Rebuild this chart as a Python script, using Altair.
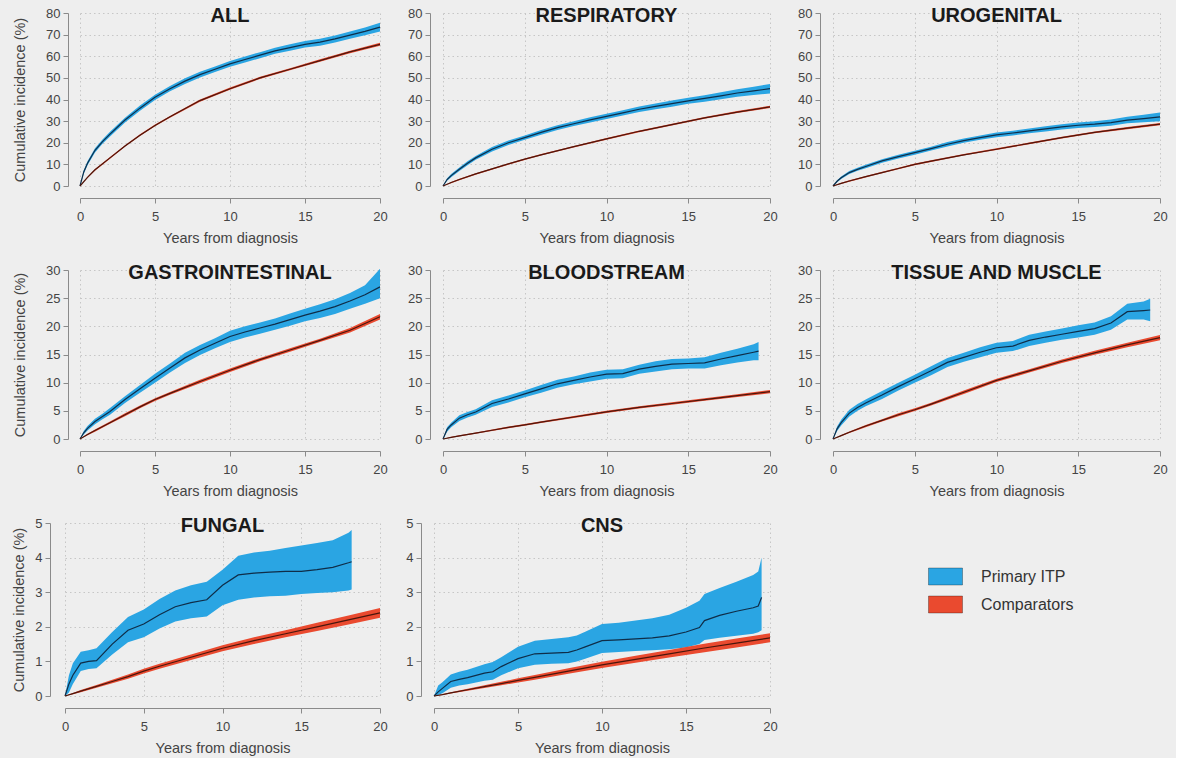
import altair as alt
import pandas as pd

# ---------------------------------------------------------------- styling
FONT = "Liberation Sans"
BG = "#eeeeee"
ITP_FILL = "#2aa5e3"
CMP_FILL = "#ea4a2f"
ITP_LINE = "#0f2d48"
CMP_LINE = "#4a160c"
GROUPS = ["Primary ITP", "Comparators"]
X_TICKS = [0, 5, 10, 15, 20]

# ---------------------------------------------------------------- time grids (years)
T_ITP = [0, 0.25, 0.5, 1, 1.5, 2, 3, 4, 5, 6, 7, 8, 9, 10, 11, 12, 13, 14, 15, 16, 17, 18, 19, 20]
T_CMP = [0, 0.5, 1, 2, 3, 4, 5, 6, 8, 10, 12, 14, 16, 18, 20]
T_BLOOD_ITP = [0, 0.25, 0.5, 1, 1.5, 2, 3, 4, 5, 6, 7, 8, 9, 10, 11, 12, 13, 14, 15, 16, 17, 18, 19, 19.3]
T_TISSUE_ITP = [0, 0.25, 0.5, 1, 1.5, 2, 3, 4, 5, 6, 7, 8, 9, 10, 11, 12, 13, 14, 15, 16, 17, 18, 19, 19.4]
T_FUNGAL_ITP = [0, 0.25, 0.5, 1, 1.5, 2, 3, 4, 5, 6, 7, 8, 9, 10, 11, 12, 13, 14, 15, 16, 17, 18, 18.2]
T_CNS_ITP = [0, 0.25, 0.5, 1, 1.5, 2, 3, 3.5, 4, 5, 6, 7, 8, 8.5, 9, 10, 11, 12, 13, 14, 15, 15.8, 16.1,
             17, 18, 19, 19.3, 19.5]

# ---------------------------------------------------------------- cumulative incidence (%)
# ALL
ALL_ITP = [0, 6.5, 10.5, 16.5, 20.5, 24, 30.5, 36, 41, 45, 48.5, 51.5, 54, 56.5, 58.5, 60.5, 62.5, 64, 65.5,
           66.5, 68, 69.8, 71.5, 73.5]
ALL_ITP_LO = [0, 5.7, 9.6, 15.5, 19.5, 22.9, 29.4, 34.8, 39.8, 43.8, 47.2, 50.2, 52.7, 55.2, 57.1, 59.1, 61.1,
              62.5, 64.0, 64.9, 66.4, 68.1, 69.7, 71.5]
ALL_ITP_HI = [0, 7.3, 11.4, 17.5, 21.5, 25.1, 31.6, 37.2, 42.2, 46.2, 49.8, 52.8, 55.3, 57.8, 59.9, 61.9, 63.9,
              65.5, 67.0, 68.1, 69.6, 71.5, 73.3, 75.5]
ALL_CMP = [0, 4, 7.5, 13, 18.5, 23.5, 28, 32, 39.5, 45, 50, 54, 58, 62, 65.5]
ALL_CMP_LO = [0, 3.7, 7.1, 12.6, 18.1, 23.1, 27.6, 31.6, 39.0, 44.5, 49.5, 53.5, 57.4, 61.4, 64.8]
ALL_CMP_HI = [0, 4.3, 7.9, 13.4, 18.9, 23.9, 28.4, 32.4, 40.0, 45.5, 50.5, 54.5, 58.6, 62.6, 66.2]

# RESPIRATORY
RESP_ITP = [0, 3, 4.8, 7.7, 10.5, 13, 17, 20, 22.4, 24.8, 27, 28.8, 30.6, 32.2, 33.8, 35.5, 36.8, 38.1, 39.4,
            40.5, 41.7, 43, 44, 45]
RESP_ITP_LO = [0, 2.4, 4.1, 6.9, 9.6, 12.1, 16, 19, 21.4, 23.7, 25.9, 27.7, 29.4, 31, 32.6, 34.2, 35.5, 36.7,
               38, 39, 40.1, 41.3, 42.1, 42.8]
RESP_ITP_HI = [0, 3.6, 5.5, 8.5, 11.4, 13.9, 18, 21, 23.4, 25.9, 28.1, 29.9, 31.8, 33.4, 35, 36.8, 38.1, 39.5,
               40.8, 42, 43.3, 44.7, 45.9, 47.2]
RESP_CMP = [0, 1.6, 3, 5.6, 7.9, 10.2, 12.4, 14.4, 18.2, 21.8, 25.3, 28.4, 31.5, 34.2, 36.6]
RESP_CMP_LO = [0, 1.3, 2.65, 5.25, 7.55, 9.85, 12.05, 14.05, 17.85, 21.4, 24.9, 28, 31.1, 33.7, 36.1]
RESP_CMP_HI = [0, 1.9, 3.35, 5.95, 8.25, 10.55, 12.75, 14.75, 18.55, 22.2, 25.7, 28.8, 31.9, 34.7, 37.1]

# UROGENITAL
URO_ITP = [0, 2.2, 3.8, 6.2, 7.7, 9, 11.6, 13.6, 15.4, 17.3, 19.3, 21, 22.4, 23.6, 24.5, 25.5, 26.4, 27.3, 28.1,
           28.6, 29.3, 30.5, 31.2, 32]
URO_ITP_LO = [0, 1.7, 3.2, 5.5, 7.0, 8.2, 10.8, 12.7, 14.5, 16.4, 18.3, 20, 21.4, 22.5, 23.4, 24.4, 25.2, 26.1,
              26.8, 27.3, 27.9, 29, 29.5, 30]
URO_ITP_HI = [0, 2.7, 4.4, 6.9, 8.4, 9.8, 12.4, 14.5, 16.3, 18.2, 20.3, 22, 23.4, 24.7, 25.6, 26.6, 27.6, 28.5,
              29.4, 29.9, 30.7, 32, 32.9, 34]
URO_CMP = [0, 1.2, 2.3, 4.3, 6.2, 8.1, 10, 11.5, 14.4, 17, 19.7, 22.4, 24.8, 26.8, 28.6]
URO_CMP_LO = [0, 0.9, 1.95, 3.95, 5.85, 7.75, 9.65, 11.15, 14.05, 16.6, 19.3, 22, 24.4, 26.3, 28.1]
URO_CMP_HI = [0, 1.5, 2.65, 4.65, 6.55, 8.45, 10.35, 11.85, 14.75, 17.4, 20.1, 22.8, 25.2, 27.3, 29.1]

# GASTROINTESTINAL
GI_ITP = [0, 1.1, 1.9, 3.1, 4.0, 4.9, 7, 8.9, 10.8, 12.6, 14.4, 15.8, 17, 18.2, 19, 19.7, 20.4, 21.2, 22, 22.7,
          23.5, 24.5, 25.6, 27]
GI_ITP_LO = [0, 0.8, 1.5, 2.6, 3.5, 4.3, 6.4, 8.2, 10, 11.8, 13.5, 14.9, 16.1, 17.2, 18, 18.7, 19.4, 20.1, 20.9,
             21.5, 22.2, 23.1, 24, 25]
GI_ITP_HI = [0, 1.4, 2.3, 3.6, 4.5, 5.5, 7.6, 9.6, 11.6, 13.4, 15.3, 16.7, 17.9, 19.2, 20, 20.7, 21.4, 22.3,
             23.1, 23.9, 24.8, 25.9, 27.3, 30.2]
GI_CMP = [0, 0.8, 1.5, 2.9, 4.3, 5.7, 7, 8.1, 10.2, 12.2, 14.1, 15.8, 17.5, 19.3, 21.7]
GI_CMP_LO = [0, 0.65, 1.3, 2.7, 4.05, 5.45, 6.75, 7.85, 9.9, 11.9, 13.8, 15.5, 17.2, 18.9, 21.2]
GI_CMP_HI = [0, 0.95, 1.7, 3.1, 4.55, 5.95, 7.25, 8.35, 10.5, 12.5, 14.4, 16.1, 17.8, 19.7, 22.2]

# BLOODSTREAM
BLOOD_ITP = [0, 1.7, 2.5, 3.7, 4.3, 4.8, 6.3, 7.1, 8, 8.9, 9.8, 10.4, 11, 11.5, 11.6, 12.4, 12.9, 13.3, 13.4,
             13.5, 14.2, 14.8, 15.4, 15.6]
BLOOD_ITP_LO = [0, 1.3, 2.1, 3.2, 3.8, 4.3, 5.7, 6.5, 7.4, 8.2, 9.1, 9.7, 10.2, 10.7, 10.8, 11.6, 12, 12.4,
                12.5, 12.5, 13.1, 13.6, 14, 14]
BLOOD_ITP_HI = [0, 2.1, 2.9, 4.2, 4.8, 5.3, 6.9, 7.7, 8.6, 9.6, 10.5, 11.1, 11.8, 12.3, 12.4, 13.2, 13.8, 14.2,
                14.3, 14.5, 15.3, 16, 16.8, 17.2]
BLOOD_CMP = [0, 0.3, 0.55, 1.05, 1.55, 2.05, 2.5, 3, 3.9, 4.8, 5.6, 6.3, 7.0, 7.7, 8.4]
BLOOD_CMP_LO = [0, 0.22, 0.45, 0.93, 1.42, 1.9, 2.35, 2.84, 3.72, 4.6, 5.4, 6.08, 6.77, 7.45, 8.12]
BLOOD_CMP_HI = [0, 0.38, 0.65, 1.17, 1.68, 2.2, 2.65, 3.16, 4.08, 5.0, 5.8, 6.52, 7.23, 7.95, 8.68]

# TISSUE AND MUSCLE
TISSUE_ITP = [0, 1.8, 2.9, 4.6, 5.6, 6.4, 7.8, 9.3, 10.7, 12.1, 13.6, 14.5, 15.4, 16.2, 16.5, 17.5, 18.1, 18.6,
              19.1, 19.6, 20.6, 22.6, 22.8, 22.9]
TISSUE_ITP_LO = [0, 1.4, 2.4, 4.0, 5.0, 5.8, 7.1, 8.6, 10.0, 11.3, 12.8, 13.7, 14.5, 15.3, 15.6, 16.5, 17.1,
                 17.6, 18, 18.5, 19.4, 21.2, 21.2, 20.9]
TISSUE_ITP_HI = [0, 2.2, 3.4, 5.2, 6.2, 7.0, 8.5, 10.0, 11.4, 12.9, 14.4, 15.3, 16.3, 17.1, 17.4, 18.5, 19.1,
                 19.6, 20.2, 20.7, 21.8, 24, 24.4, 24.9]
TISSUE_CMP = [0, 0.6, 1.2, 2.3, 3.3, 4.3, 5.2, 6.2, 8.3, 10.4, 12.1, 13.8, 15.3, 16.7, 18.0]
TISSUE_CMP_LO = [0, 0.5, 1.05, 2.1, 3.1, 4.05, 4.95, 5.95, 8.0, 10.1, 11.8, 13.5, 14.95, 16.3, 17.55]
TISSUE_CMP_HI = [0, 0.7, 1.35, 2.5, 3.5, 4.55, 5.45, 6.45, 8.6, 10.7, 12.4, 14.1, 15.65, 17.1, 18.45]

# FUNGAL
FUNGAL_ITP = [0, 0.35, 0.6, 0.95, 1.0, 1.02, 1.5, 1.9, 2.08, 2.35, 2.58, 2.7, 2.78, 3.2, 3.5, 3.55, 3.58, 3.6,
              3.6, 3.65, 3.72, 3.85, 3.88]
FUNGAL_ITP_LO = [0, 0.1, 0.35, 0.72, 0.78, 0.8, 1.2, 1.55, 1.7, 1.95, 2.15, 2.25, 2.3, 2.62, 2.78, 2.85, 2.88,
                 2.9, 2.95, 2.98, 3.0, 3.05, 3.08]
FUNGAL_ITP_HI = [0, 0.6, 0.95, 1.28, 1.32, 1.38, 1.85, 2.28, 2.5, 2.8, 3.05, 3.2, 3.3, 3.65, 4.05, 4.15, 4.2,
                 4.28, 4.35, 4.42, 4.5, 4.72, 4.8]
FUNGAL_CMP = [0, 0.07, 0.14, 0.28, 0.42, 0.56, 0.72, 0.86, 1.12, 1.38, 1.6, 1.8, 2.0, 2.2, 2.4]
FUNGAL_CMP_LO = [0, 0.05, 0.11, 0.24, 0.37, 0.5, 0.65, 0.79, 1.04, 1.29, 1.5, 1.7, 1.88, 2.07, 2.26]
FUNGAL_CMP_HI = [0, 0.09, 0.17, 0.32, 0.47, 0.62, 0.79, 0.93, 1.2, 1.47, 1.7, 1.9, 2.12, 2.33, 2.54]

# CNS
CNS_ITP = [0, 0.12, 0.22, 0.42, 0.48, 0.53, 0.66, 0.7, 0.85, 1.08, 1.22, 1.24, 1.26, 1.33, 1.42, 1.6, 1.62,
           1.65, 1.68, 1.74, 1.85, 1.98, 2.18, 2.33, 2.45, 2.55, 2.6, 2.85]
CNS_ITP_LO = [0, 0.03, 0.08, 0.24, 0.3, 0.34, 0.44, 0.47, 0.6, 0.8, 0.9, 0.93, 0.95, 1.0, 1.08, 1.24, 1.27,
              1.3, 1.32, 1.35, 1.4, 1.5, 1.62, 1.68, 1.74, 1.8, 1.84, 1.9]
CNS_ITP_HI = [0, 0.3, 0.4, 0.62, 0.7, 0.76, 0.92, 0.98, 1.12, 1.42, 1.6, 1.65, 1.7, 1.75, 1.86, 2.08, 2.12,
              2.18, 2.25, 2.35, 2.55, 2.75, 2.95, 3.12, 3.3, 3.5, 3.6, 4.0]
CNS_CMP = [0, 0.04, 0.09, 0.18, 0.27, 0.36, 0.45, 0.54, 0.72, 0.9, 1.06, 1.22, 1.38, 1.53, 1.68]
CNS_CMP_LO = [0, 0.03, 0.07, 0.15, 0.23, 0.31, 0.39, 0.47, 0.64, 0.81, 0.96, 1.11, 1.26, 1.4, 1.55]
CNS_CMP_HI = [0, 0.05, 0.11, 0.21, 0.31, 0.41, 0.51, 0.61, 0.8, 0.99, 1.16, 1.33, 1.5, 1.66, 1.81]


def frame(t, est, lo, hi, group):
    return pd.DataFrame({"t": t, "est": est, "lo": lo, "hi": hi, "group": group})


LEGEND = alt.Legend(
    title=None,
    orient="none",
    legendX=918,
    legendY=546,
    symbolType="M-1,-0.5H1V0.5H-1Z",
    symbolSize=1156,
    symbolStrokeColor="rgba(0,0,0,0.3)",
    symbolStrokeWidth=1,
    symbolOpacity=1,
    labelFont=FONT,
    labelFontSize=16,
    labelColor="#333333",
    labelOffset=18,
    rowPadding=0,
)
COLOR = alt.Color(
    "group:N",
    scale=alt.Scale(domain=GROUPS, range=[ITP_FILL, CMP_FILL]),
    legend=LEGEND,
)


def panel(name, itp, cmp_, ymax, ystep, width, height,
          y_title=None, y_offset=13, y_extent=23, y_title_pad=18):
    x_axis = alt.Axis(
        values=X_TICKS, title="Years from diagnosis", offset=12, grid=True, labelFlush=False,
        tickSize=5, labelPadding=7, minExtent=25, maxExtent=25, titlePadding=8,
    )
    y_axis_args = dict(
        values=list(range(0, ymax + 1, ystep)), offset=y_offset, grid=True,
        tickSize=5, labelPadding=3, labelAlign="right",
    )
    if y_title:
        y_axis_args.update(title=y_title, minExtent=y_extent, maxExtent=y_extent,
                           titlePadding=y_title_pad)
    else:
        y_axis_args.update(title=None)
    y_axis = alt.Axis(**y_axis_args)

    xs = alt.Scale(domain=[0, 20], nice=False)
    ys = alt.Scale(domain=[0, ymax], nice=False)

    def band(df):
        return alt.Chart(df).mark_area(opacity=1, strokeWidth=0).encode(
            x=alt.X("t:Q", scale=xs, axis=x_axis),
            y=alt.Y("lo:Q", scale=ys, axis=y_axis, stack=None),
            y2="hi:Q",
            color=COLOR,
        )

    def estimate(df, colour):
        return alt.Chart(df).mark_line(color=colour, strokeWidth=1.2).encode(
            x=alt.X("t:Q", scale=xs, axis=x_axis),
            y=alt.Y("est:Q", scale=ys, axis=y_axis),
        )

    # panel heading, centred on the middle of the time axis at the top of the y range
    heading = alt.Chart(pd.DataFrame({"label": [name], "tx": [10], "ty": [ymax]})).mark_text(
        fontSize=20, fontWeight="bold", color="#1a1a1a", font=FONT, baseline="middle", dy=3,
    ).encode(
        x=alt.X("tx:Q", scale=xs, axis=x_axis),
        y=alt.Y("ty:Q", scale=ys, axis=y_axis),
        text="label:N",
    )

    return alt.layer(
        band(itp), band(cmp_), estimate(itp, ITP_LINE), estimate(cmp_, CMP_LINE), heading
    ).properties(width=width, height=height)


def spacer(width, height):
    # empty cell that sets the left margin of a row
    return alt.Chart(pd.DataFrame({"v": [0]})).mark_point(opacity=0).properties(
        width=width, height=height
    )


YT = "Cumulative incidence (%)"

p_all = panel("ALL", frame(T_ITP, ALL_ITP, ALL_ITP_LO, ALL_ITP_HI, GROUPS[0]),
              frame(T_CMP, ALL_CMP, ALL_CMP_LO, ALL_CMP_HI, GROUPS[1]),
              80, 10, 300, 173, y_title=YT, y_offset=12, y_extent=23, y_title_pad=18)
p_resp = panel("RESPIRATORY", frame(T_ITP, RESP_ITP, RESP_ITP_LO, RESP_ITP_HI, GROUPS[0]),
               frame(T_CMP, RESP_CMP, RESP_CMP_LO, RESP_CMP_HI, GROUPS[1]),
               80, 10, 327, 173)
p_uro = panel("UROGENITAL", frame(T_ITP, URO_ITP, URO_ITP_LO, URO_ITP_HI, GROUPS[0]),
              frame(T_CMP, URO_CMP, URO_CMP_LO, URO_CMP_HI, GROUPS[1]),
              80, 10, 327, 173)

p_gi = panel("GASTROINTESTINAL", frame(T_ITP, GI_ITP, GI_ITP_LO, GI_ITP_HI, GROUPS[0]),
             frame(T_CMP, GI_CMP, GI_CMP_LO, GI_CMP_HI, GROUPS[1]),
             30, 5, 300, 169, y_title=YT, y_offset=12, y_extent=23, y_title_pad=18)
p_blood = panel("BLOODSTREAM", frame(T_BLOOD_ITP, BLOOD_ITP, BLOOD_ITP_LO, BLOOD_ITP_HI, GROUPS[0]),
                frame(T_CMP, BLOOD_CMP, BLOOD_CMP_LO, BLOOD_CMP_HI, GROUPS[1]),
                30, 5, 327, 169)
p_tissue = panel("TISSUE AND MUSCLE",
                 frame(T_TISSUE_ITP, TISSUE_ITP, TISSUE_ITP_LO, TISSUE_ITP_HI, GROUPS[0]),
                 frame(T_CMP, TISSUE_CMP, TISSUE_CMP_LO, TISSUE_CMP_HI, GROUPS[1]),
                 30, 5, 327, 169)

p_fungal = panel("FUNGAL", frame(T_FUNGAL_ITP, FUNGAL_ITP, FUNGAL_ITP_LO, FUNGAL_ITP_HI, GROUPS[0]),
                 frame(T_CMP, FUNGAL_CMP, FUNGAL_CMP_LO, FUNGAL_CMP_HI, GROUPS[1]),
                 5, 1, 315, 173, y_title=YT, y_offset=15, y_extent=16, y_title_pad=8)
p_cns = panel("CNS", frame(T_CNS_ITP, CNS_ITP, CNS_ITP_LO, CNS_ITP_HI, GROUPS[0]),
              frame(T_CMP, CNS_CMP, CNS_CMP_LO, CNS_CMP_HI, GROUPS[1]),
              5, 1, 336, 173)

row1 = alt.hconcat(spacer(7, 173), p_all, p_resp, p_uro, spacing=63, bounds="flush")
row2 = alt.hconcat(spacer(7, 169), p_gi, p_blood, p_tissue, spacing=63, bounds="flush")
row3 = alt.hconcat(spacer(1, 173), p_fungal, p_cns, spacing=54, bounds="flush")

chart = alt.vconcat(row1, row2, row3, spacing=18).properties(
    padding={"left": 7, "top": 6, "right": 8, "bottom": 3},
    background=BG,
).configure(
    font=FONT,
).configure_view(
    strokeWidth=0,
).configure_axis(
    domainColor="#8a8a8a",
    tickColor="#8a8a8a",
    domainWidth=1,
    tickWidth=1,
    labelFont=FONT,
    labelFontSize=13,
    labelColor="#444444",
    titleFont=FONT,
    titleFontSize=14.5,
    titleFontWeight="normal",
    titleColor="#444444",
    gridColor="#c6c6c6",
    gridDash=[1.5, 3],
    gridWidth=1,
)

chart.save("out.html", embed_options={"renderer": "svg", "actions": False})
